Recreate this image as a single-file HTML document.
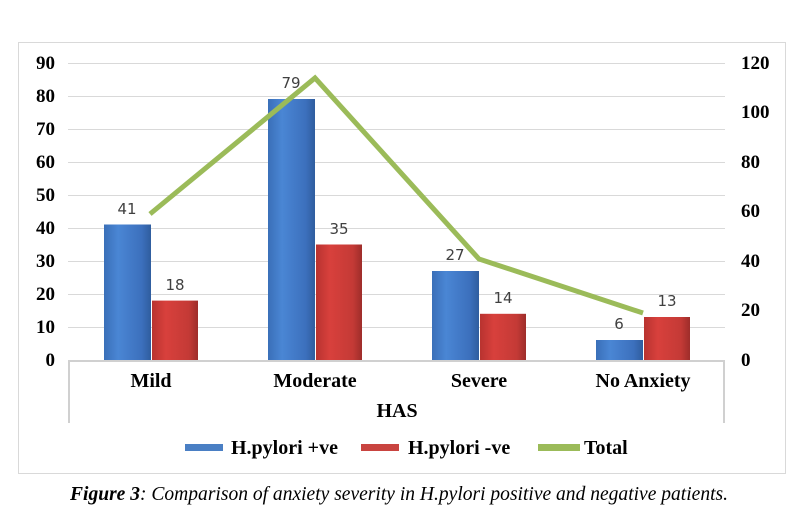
<!DOCTYPE html>
<html><head><meta charset="utf-8"><style>body{margin:0;background:#fff}svg{display:block}</style></head><body>
<svg width="803" height="516" xmlns="http://www.w3.org/2000/svg" font-family="Liberation Serif, serif">
<defs>
<linearGradient id="b" x1="0" x2="1"><stop offset="0" stop-color="#3a6fb8"/><stop offset="0.3" stop-color="#4a86d4"/><stop offset="0.8" stop-color="#3c70bd"/><stop offset="1" stop-color="#2f5d9e"/></linearGradient>
<linearGradient id="r" x1="0" x2="1"><stop offset="0" stop-color="#b83330"/><stop offset="0.3" stop-color="#d8403c"/><stop offset="0.8" stop-color="#c43a36"/><stop offset="1" stop-color="#9e2d2a"/></linearGradient>
</defs>
<rect x="18.5" y="42.5" width="767" height="431" fill="#fff" stroke="#d9d9d9"/>
<g stroke="#d9d9d9" stroke-width="1">
<line x1="68" x2="725" y1="63.5" y2="63.5"/><line x1="68" x2="725" y1="96.5" y2="96.5"/><line x1="68" x2="725" y1="129.5" y2="129.5"/><line x1="68" x2="725" y1="162.5" y2="162.5"/><line x1="68" x2="725" y1="195.5" y2="195.5"/><line x1="68" x2="725" y1="228.5" y2="228.5"/><line x1="68" x2="725" y1="261.5" y2="261.5"/><line x1="68" x2="725" y1="294.5" y2="294.5"/><line x1="68" x2="725" y1="327.5" y2="327.5"/>
</g>
<g stroke="#d0d0d0" stroke-width="2" fill="none"><polyline points="69,423 69,361 724,361 724,423"/></g>
<g font-size="19" font-weight="bold" text-anchor="end">
<text x="55" y="69">90</text><text x="55" y="102">80</text><text x="55" y="135">70</text><text x="55" y="168">60</text><text x="55" y="201">50</text><text x="55" y="234">40</text><text x="55" y="267">30</text><text x="55" y="300">20</text><text x="55" y="333">10</text><text x="55" y="366">0</text>
</g>
<g font-size="19" font-weight="bold">
<text x="741" y="69">120</text><text x="741" y="118">100</text><text x="741" y="168">80</text><text x="741" y="217">60</text><text x="741" y="267">40</text><text x="741" y="316">20</text><text x="741" y="366">0</text>
</g>
<g>
<rect x="104" y="224.5" width="47" height="135.5" fill="url(#b)"/><rect x="152" y="300.6" width="46" height="59.4" fill="url(#r)"/>
<rect x="268" y="99" width="47" height="261" fill="url(#b)"/><rect x="316" y="244.5" width="46" height="115.5" fill="url(#r)"/>
<rect x="432" y="271" width="47" height="89" fill="url(#b)"/><rect x="480" y="313.8" width="46" height="46.2" fill="url(#r)"/>
<rect x="596" y="340" width="47" height="20" fill="url(#b)"/><rect x="644" y="317" width="46" height="43" fill="url(#r)"/>
</g>
<g font-family="DejaVu Sans, sans-serif" font-size="15" fill="#404040" text-anchor="middle">
<text x="127" y="214">41</text><text x="175" y="290">18</text>
<text x="291" y="88">79</text><text x="339" y="234">35</text>
<text x="455" y="260">27</text><text x="503" y="303">14</text>
<text x="619" y="329">6</text><text x="667" y="306">13</text>
</g>
<polyline points="150,214 315,78 479,259 643,313" fill="none" stroke="#9bbb59" stroke-width="5"/>
<g font-size="20" font-weight="bold" text-anchor="middle">
<text x="151" y="387">Mild</text><text x="315" y="387">Moderate</text><text x="479" y="387">Severe</text><text x="643" y="387">No Anxiety</text>
<text x="397" y="417">HAS</text>
</g>
<rect x="185" y="444" width="38" height="7" fill="#4a7fc4"/>
<rect x="361" y="444" width="38" height="7" fill="#c94440"/>
<rect x="538" y="444" width="42" height="7" fill="#9bbb59"/>
<g font-size="20" font-weight="bold">
<text x="231" y="454">H.pylori +ve</text><text x="408" y="454">H.pylori -ve</text><text x="584" y="454">Total</text>
</g>
<text x="70" y="500" font-size="19.5" font-style="italic" textLength="658" lengthAdjust="spacingAndGlyphs"><tspan font-weight="bold">Figure 3</tspan>: Comparison of anxiety severity in H.pylori positive and negative patients.</text>
</svg>
</body></html>
